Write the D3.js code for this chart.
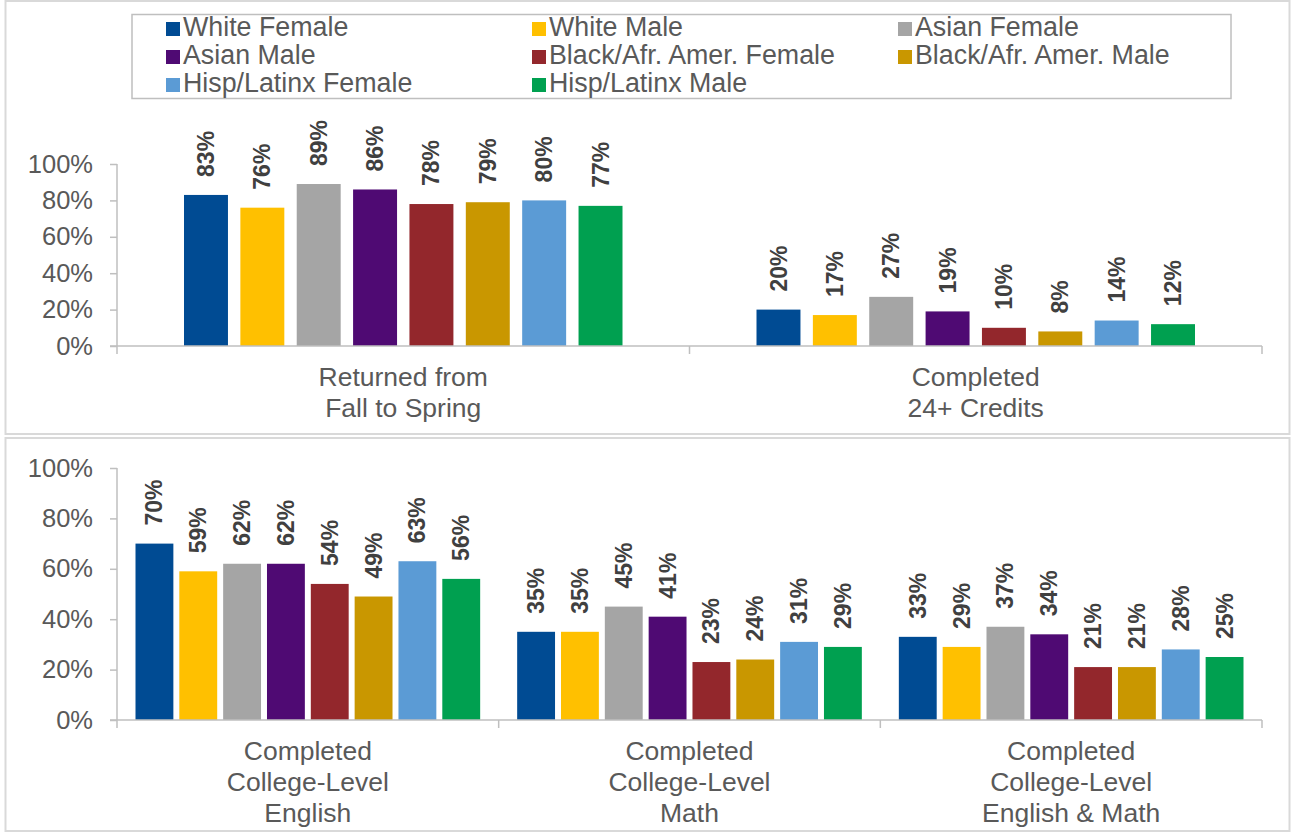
<!DOCTYPE html>
<html>
<head>
<meta charset="utf-8">
<script src="https://cdn.jsdelivr.net/npm/d3@7"></script>
<style>
  body { margin: 0; background: #fff; }
  svg { display: block; font-family: Arial, "Liberation Sans", sans-serif; }
</style>
</head>
<body>
<script>
// series (one per bar colour)
const series = [
  "White Female", "White Male", "Asian Female",
  "Asian Male", "Black/Afr. Amer. Female", "Black/Afr. Amer. Male",
  "Hisp/Latinx Female", "Hisp/Latinx Male"
];
const colors = ["#004b93", "#ffc000", "#a5a5a5", "#4f0a73", "#93272c", "#c99700", "#5b9bd5", "#00a050"];

// top panel
const topCategories = [["Returned from", "Fall to Spring"], ["Completed", "24+ Credits"]];
const returnedFallSpring = [83, 76, 89, 86, 78, 79, 80, 77];
const completed24Credits = [20, 17, 27, 19, 10, 8, 14, 12];

// bottom panel
const bottomCategories = [
  ["Completed", "College-Level", "English"],
  ["Completed", "College-Level", "Math"],
  ["Completed", "College-Level", "English & Math"]
];
const collegeEnglish = [70, 59, 62, 62, 54, 49, 63, 56];
const collegeMath = [35, 35, 45, 41, 23, 24, 31, 29];
const collegeEnglishMath = [33, 29, 37, 34, 21, 21, 28, 25];

const yTicks = [0, 20, 40, 60, 80, 100];

const W = 1294, H = 833;
const axisColor = "#bfbfbf";
const textColor = "#595959";

const svg = d3.select("body").append("svg")
  .attr("width", W)
  .attr("height", H);

// panel frames
svg.append("rect").attr("x", 5.5).attr("y", 1).attr("width", 1284).attr("height", 433)
  .attr("fill", "none").attr("stroke", "#d9d9d9").attr("stroke-width", 2);
svg.append("rect").attr("x", 5.5).attr("y", 438).attr("width", 1284).attr("height", 393)
  .attr("fill", "none").attr("stroke", "#d9d9d9").attr("stroke-width", 2);

// legend
const legend = svg.append("g");
legend.append("rect").attr("x", 132).attr("y", 14.5).attr("width", 1099).attr("height", 84)
  .attr("fill", "none").attr("stroke", axisColor).attr("stroke-width", 1.5);
series.forEach((s, i) => {
  const col = i % 3, row = Math.floor(i / 3);
  const g = legend.append("g")
    .attr("transform", `translate(${166 + col * 366}, ${36 + row * 28})`);
  g.append("rect").attr("x", 0).attr("y", -14).attr("width", 14).attr("height", 14)
    .attr("fill", colors[i]);
  g.append("text").attr("x", 17).attr("y", 0)
    .style("font-size", "26.8px").style("fill", textColor)
    .text(s);
});

function drawPanel(cats, values, yTop, yBottom, margin, pad) {
  const g = svg.append("g");
  const x0 = d3.scaleBand().domain(d3.range(cats.length)).range([117, 1262]).padding(0);
  const x1 = d3.scaleBand().domain(series).range([margin, x0.bandwidth() - margin]).paddingInner(pad);
  const y = d3.scaleLinear().domain([0, 100]).range([yBottom, yTop]);

  // y axis
  const ya = g.append("g").attr("transform", "translate(117,0)")
    .call(d3.axisLeft(y).tickValues(yTicks).tickFormat(d => d + "%")
      .tickSize(7).tickSizeOuter(0).tickPadding(17));
  ya.select(".domain").remove();
  ya.selectAll(".tick line").attr("stroke", axisColor).attr("stroke-width", 1.5);
  ya.selectAll(".tick text").style("font-size", "25.5px").style("fill", textColor)
    .style("font-family", "Arial, 'Liberation Sans', sans-serif");
  g.append("line").attr("x1", 117).attr("x2", 117).attr("y1", y(100)).attr("y2", y(0) + 8)
    .attr("stroke", axisColor).attr("stroke-width", 1.5);

  // bars
  cats.forEach((c, ci) => {
    const cg = g.append("g").attr("transform", `translate(${x0(ci)},0)`);
    cg.selectAll("rect").data(values[ci]).join("rect")
      .attr("x", (d, i) => x1(series[i]))
      .attr("y", d => y(d))
      .attr("width", x1.bandwidth())
      .attr("height", d => y(0) - y(d))
      .attr("fill", (d, i) => colors[i]);
    cg.selectAll("text.val").data(values[ci]).join("text")
      .attr("class", "val")
      .attr("transform", (d, i) => `translate(${x1(series[i]) + x1.bandwidth() / 2},${y(d) - 18}) rotate(-90)`)
      .attr("dy", "0.35em")
      .style("font-size", "23px").style("font-weight", "bold").style("fill", "#404040")
      .text(d => Math.round(d) + "%");
    // category label
    const t = g.append("text")
      .attr("x", x0(ci) + x0.bandwidth() / 2)
      .attr("y", y(0) + 40)
      .attr("text-anchor", "middle")
      .style("font-size", "26.5px").style("fill", textColor);
    c.forEach((line, li) => {
      t.append("tspan").attr("x", x0(ci) + x0.bandwidth() / 2)
        .attr("dy", li === 0 ? 0 : 31).text(line);
    });
  });

  // x axis
  g.append("line").attr("x1", 110).attr("x2", 1262).attr("y1", y(0)).attr("y2", y(0))
    .attr("stroke", axisColor).attr("stroke-width", 1.5);
  const bounds = d3.range(1, cats.length + 1).map(i => i < cats.length ? x0(i) : x0.range()[1]);
  g.selectAll("line.xt").data(bounds).join("line")
    .attr("class", "xt")
    .attr("x1", d => d).attr("x2", d => d)
    .attr("y1", y(0)).attr("y2", y(0) + 8)
    .attr("stroke", axisColor).attr("stroke-width", 1.5);
}

drawPanel(topCategories, [returnedFallSpring, completed24Credits], 164, 346, 67, 0.22);
drawPanel(bottomCategories, [collegeEnglish, collegeMath, collegeEnglishMath], 468, 720, 18.5, 0.136);
</script>
</body>
</html>
